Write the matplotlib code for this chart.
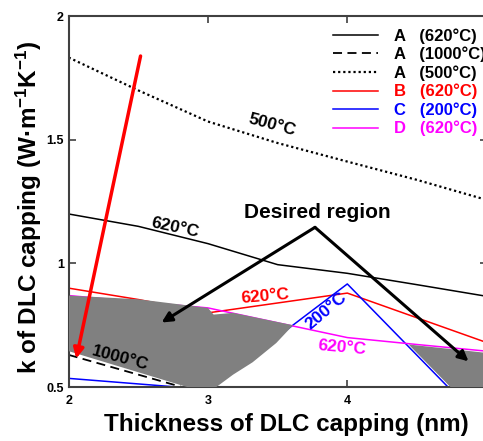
import matplotlib.pyplot as plt

plt.rcParams.update({'font.family': 'Liberation Sans', 'font.weight': 'bold',
                     'mathtext.fontset': 'custom', 'mathtext.bf': 'Liberation Sans:bold',
                     'mathtext.rm': 'Liberation Sans:bold', 'mathtext.default': 'bf'})

# thickness (nm) and k values (W/m/K)
x7 = [2, 2.5, 3, 3.5, 4, 4.5, 5]
a620 = [1.20, 1.15, 1.08, 0.995, 0.96, 0.914, 0.867]
a500 = [1.833, 1.70, 1.574, 1.487, 1.412, 1.338, 1.257]
x_a1000 = [2, 2.5, 3]
a1000 = [0.63, 0.55, 0.47]
b620 = [0.90, 0.854, 0.80, 0.84, 0.88, 0.78, 0.68]
x_c = [2, 3, 4, 5]
c200 = [0.535, 0.49, 0.917, 0.34]
d620 = [0.87, 0.845, 0.82, 0.76, 0.70, 0.672, 0.645]

# shaded "desired region" outlines
reg1_x = [2, 2.5, 3.0, 3.04, 3.18, 3.61, 3.49, 3.32, 3.18, 3.06, 2.85, 2.0]
reg1_y = [0.87, 0.855, 0.82, 0.793, 0.80, 0.75, 0.678, 0.60, 0.55, 0.5, 0.5, 0.645]
reg2_x = [4.44, 5.0, 5.0, 4.74]
reg2_y = [0.672, 0.638, 0.5, 0.5]

legend_names = ['A', 'A', 'A', 'B', 'C', 'D']
legend_temps = [620, 1000, 500, 620, 200, 620]

fig = plt.figure(figsize=(4.83, 4.41), dpi=100)
ax = fig.add_axes([0.1422, 0.1224, 0.8653, 0.8408])

h1, = ax.plot(x7, a620, color='black', lw=1.1)
h2, = ax.plot(x_a1000, a1000, color='black', lw=1.3, ls=(0, (5, 3)))
h3, = ax.plot(x7, a500, color='black', lw=1.6, ls=(0, (1, 1.3)))
h4, = ax.plot(x7, b620, color='red', lw=1.1)
h5, = ax.plot(x_c, c200, color='blue', lw=1.1)
h6, = ax.plot(x7, d620, color='magenta', lw=1.1)

ax.fill(reg1_x, reg1_y, color='#808080', lw=0, zorder=3)
ax.fill(reg2_x, reg2_y, color='#808080', lw=0, zorder=3)

# arrows
ax.annotate('', xy=(2.05, 0.604), xytext=(2.52, 1.85),
            arrowprops=dict(arrowstyle='-|>', color='red', lw=2.5, mutation_scale=15), zorder=5)
ax.annotate('', xy=(2.667, 0.761), xytext=(3.768, 1.146),
            arrowprops=dict(arrowstyle='-|>', color='black', lw=2.2, mutation_scale=15,
                            shrinkA=0, shrinkB=0), zorder=5)
ax.annotate('', xy=(4.87, 0.604), xytext=(3.768, 1.146),
            arrowprops=dict(arrowstyle='-|>', color='black', lw=2.2, mutation_scale=15,
                            shrinkA=0, shrinkB=0), zorder=5)
ax.text(3.786, 1.206, 'Desired region', fontsize=15, ha='center', va='center')

lab = dict(fontsize=12.5, ha='center', va='center', zorder=6)
ax.text(3.46, 1.56, '500°C', rotation=-15, color='black', **lab)
ax.text(2.76, 1.143, '620°C', rotation=-12, color='black', **lab)
ax.text(3.41, 0.867, '620°C', rotation=5, color='red', **lab)
ax.text(3.85, 0.806, '200°C', rotation=40, color='blue', **lab)
ax.text(3.96, 0.658, '620°C', rotation=-5, color='magenta', **lab)
ax.text(2.37, 0.618, '1000°C', rotation=-15, color='black', **lab)

labels = [f'{n}   ({t}°C)' for n, t in zip(legend_names, legend_temps)]
leg = ax.legend([h1, h2, h3, h4, h5, h6], labels, loc='upper left',
                bbox_to_anchor=(0.632, 0.968), frameon=False, fontsize=12,
                handlelength=2.7, handletextpad=1.0, borderpad=0, borderaxespad=0,
                labelspacing=0.18)
for txt, h in zip(leg.get_texts(), [h1, h2, h3, h4, h5, h6]):
    txt.set_color(h.get_color())

ax.set_xlim(2, 5)
ax.set_ylim(0.5, 2)
ax.set_xticks([2, 3, 4, 5])
ax.set_yticks([0.5, 1, 1.5, 2])
ax.set_yticklabels(['0.5', '1', '1.5', '2'])
ax.tick_params(direction='in', top=True, right=True, labelsize=9, width=1.2, length=5,
               color='#404040')
ax.tick_params(axis='x', pad=6)
for t in ax.get_xticklabels() + ax.get_yticklabels():
    t.set_fontweight('bold')
for s in ax.spines.values():
    s.set_linewidth(1.5)
    s.set_color('#404040')

ax.set_xlabel('Thickness of DLC capping (nm)', fontsize=17.5, fontweight='bold', labelpad=4)
ax.xaxis.label.set_x(0.52)
ax.set_ylabel(r'k of DLC capping (W·m$^{-1}$K$^{-1}$)', fontsize=17.5, fontweight='bold',
              labelpad=2)
ax.yaxis.label.set_y(0.484)

fig.savefig('out.png', dpi=100)
